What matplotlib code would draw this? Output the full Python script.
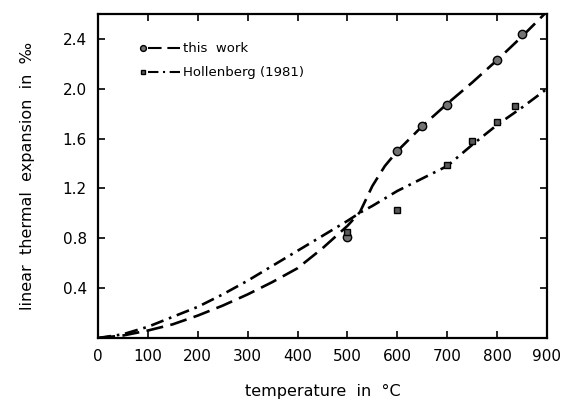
import numpy as np
import matplotlib
matplotlib.use('Agg')
import matplotlib.pyplot as plt
from matplotlib.lines import Line2D

# measured points, this work
tw_temp = [500, 600, 650, 700, 800, 850]
tw_exp = [0.81, 1.50, 1.70, 1.87, 2.23, 2.44]

# measured points, Hollenberg (1981)
ho_temp = [500, 600, 700, 750, 800, 835]
ho_exp = [0.85, 1.03, 1.39, 1.58, 1.73, 1.86]

# fitted curves
tw_curve_t = [0, 50, 100, 150, 200, 250, 300, 350, 400, 450, 500, 525, 550, 575, 600, 650, 700, 750, 800, 850, 900]
tw_curve_e = [0, 0.02, 0.06, 0.11, 0.18, 0.26, 0.35, 0.45, 0.56, 0.72, 0.90, 1.01, 1.22, 1.38, 1.50, 1.70, 1.88, 2.05, 2.23, 2.42, 2.62]

ho_curve_t = [0, 50, 100, 150, 200, 250, 300, 350, 400, 450, 500, 527, 550, 600, 650, 700, 750, 800, 850, 900]
ho_curve_e = [0, 0.03, 0.09, 0.17, 0.25, 0.35, 0.46, 0.58, 0.70, 0.82, 0.94, 1.01, 1.06, 1.18, 1.28, 1.38, 1.55, 1.71, 1.85, 2.00]

x_ticks = [0, 100, 200, 300, 400, 500, 600, 700, 800, 900]
y_ticks = [0.4, 0.8, 1.2, 1.6, 2.0, 2.4]

dash_style = (0, (6.5, 2.8))
dashdot_style = (0, (5, 2.2, 1, 2.2))

fig = plt.figure(figsize=(5.68, 4.05), dpi=100)
ax = fig.add_axes([0.1725, 0.1654, 0.7905, 0.80])

ax.plot(tw_curve_t, tw_curve_e, color='black', lw=1.9, linestyle=dash_style)
ax.plot(ho_curve_t, ho_curve_e, color='black', lw=1.9, linestyle=dashdot_style)
ax.plot(tw_temp, tw_exp, 'o', ms=6, mfc='0.45', mec='black', mew=1.0)
ax.plot(ho_temp, ho_exp, 's', ms=5, mfc='0.35', mec='black', mew=1.0)

ax.set_xlim(0, 900)
ax.set_ylim(0, 2.6)
ax.set_xticks(x_ticks)
ax.set_yticks(y_ticks)
ax.set_yticklabels(['%.1f' % v for v in y_ticks])
ax.tick_params(direction='in', length=5, width=1.2, top=True, right=True,
               labeltop=False, labelright=False, labelsize=11)
ax.tick_params(axis='x', pad=8)
ax.tick_params(axis='y', pad=8)
for sp in ax.spines.values():
    sp.set_linewidth(1.6)

ax.set_xlabel('temperature  in  °C', fontsize=11.5, labelpad=14)
ax.set_ylabel('linear  thermal  expansion  in  ‰', fontsize=11.5, labelpad=20)

# key in the upper left corner
rows = [(0.895, 'o', 6, '0.45', dash_style, 'this  work'),
        (0.821, 's', 5, '0.35', dashdot_style, 'Hollenberg (1981)')]
for yy, mk, ms, fc, ls, label in rows:
    ax.add_line(Line2D([0.10], [yy], marker=mk, ms=ms * 0.7, mfc=fc, mec='black',
                       transform=ax.transAxes, linestyle='none'))
    ax.add_line(Line2D([0.112, 0.183], [yy, yy], color='black', lw=1.5,
                       linestyle=ls, transform=ax.transAxes))
    ax.text(0.19, yy, label, transform=ax.transAxes, fontsize=9.5,
            va='center', ha='left')

fig.savefig('out.png', dpi=100)
